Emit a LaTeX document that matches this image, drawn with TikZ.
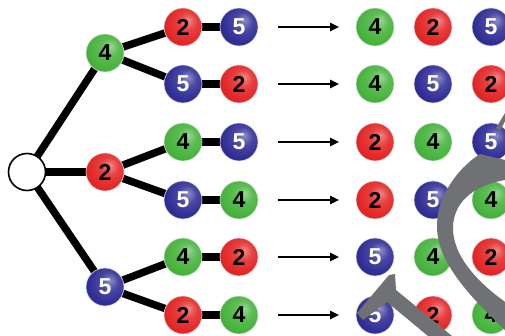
\documentclass[tikz,border=0pt]{standalone}
\usepackage{fontspec}
\setmainfont{Liberation Sans}
\usetikzlibrary{arrows.meta}

\definecolor{ballgreen}{RGB}{70,180,60}
\definecolor{ballred}{RGB}{228,38,38}
\definecolor{ballblue}{RGB}{48,46,150}
\definecolor{markgray}{RGB}{112,113,117}

% sphere shadings with a highlight towards the upper right
\newcommand\declaresphere[2]{%
  \pgfdeclareradialshading{#1}{\pgfpoint{7bp}{9bp}}{%
    color(0bp)=(#2!55!white);
    color(12bp)=(#2!88!white);
    color(26bp)=(#2);
    color(44bp)=(#2!82!black);
    color(56bp)=(#2!75!black);
    color(60bp)=(#2!60!white)}}
\declaresphere{spheregreen}{ballgreen}
\declaresphere{spherered}{ballred}
\declaresphere{sphereblue}{ballblue}

\pgfdeclarelayer{back}
\pgfsetlayers{back,main}

\begin{document}
\begin{tikzpicture}[x=1pt,y=-1pt,
  ball/.style={circle, minimum size=38pt, inner sep=0pt,
    draw=black!12, line width=0.6pt,
    font=\fontsize{23}{23}\selectfont\bfseries},
  g/.style={ball, shading=spheregreen, text=black},
  r/.style={ball, shading=spherered, text=black},
  b/.style={ball, shading=sphereblue, text=white},
  rootnode/.style={circle, minimum size=37pt, inner sep=0pt, draw=black,
    line width=1.6pt, fill=white},
  link/.style={line width=7.5pt},
  arr/.style={line width=1.6pt, -{Triangle[length=9pt,width=8.5pt]}}
]
\useasboundingbox (0,0) rectangle (505,336);

% tree nodes
\node[rootnode] (root) at (27,172) {};
\node[g] (a) at (105,53) {4};
\node[r] (b) at (105,172) {2};
\node[b] (c) at (105,287) {5};

\node[r] (a1) at (183,27) {2};   \node[b] (a1x) at (239,27) {5};
\node[b] (a2) at (183,84) {5};   \node[r] (a2x) at (239,84) {2};
\node[g] (b1) at (183,142) {4};  \node[b] (b1x) at (239,142) {5};
\node[b] (b2) at (183,200) {5};  \node[g] (b2x) at (239,200) {4};
\node[g] (c1) at (183,257) {4};  \node[r] (c1x) at (239,257) {2};
\node[r] (c2) at (183,315) {2};  \node[g] (c2x) at (239,315) {4};

% branches, behind the balls
\begin{pgfonlayer}{back}
  \foreach \u/\v in {root/a,root/b,root/c,a/a1,a/a2,b/b1,b/b2,c/c1,c/c2,
                     a1/a1x,a2/a2x,b1/b1x,b2/b2x,c1/c1x,c2/c2x}
    \draw[link] (\u.center) -- (\v.center);
\end{pgfonlayer}

% results
\node[g] (p1) at (375,27) {4};  \node[r] (q1) at (433,27) {2};  \node[b] (s1) at (491,27) {5};
\node[g] (p2) at (375,84) {4};  \node[b] (q2) at (433,84) {5};  \node[r] (s2) at (491,84) {2};
\node[r] (p3) at (375,142) {2}; \node[g] (q3) at (433,142) {4}; \node[b] (s3) at (491,142) {5};
\node[r] (p4) at (375,200) {2}; \node[b] (q4) at (433,200) {5}; \node[g] (s4) at (491,200) {4};
\node[b] (p5) at (375,257) {5}; \node[g] (q5) at (433,257) {4}; \node[r] (s5) at (491,257) {2};
\node[b] (p6) at (375,315) {5}; \node[r] (q6) at (433,315) {2}; \node[g] (s6) at (491,315) {4};

% arrows
\foreach \i/\y in {1/27,2/84,3/142,4/200,5/257,6/315}{
  \coordinate (t\i) at (278,\y);
  \coordinate (h\i) at (339,\y);
  \draw[arr] (t\i) -- (h\i);
}

% gray overprint strokes
\fill[markgray]
  (480,154) .. controls (455,170) and (436,200) .. (437,228)
  .. controls (438,262) and (468,295) .. (505,330)
  -- (505,302)
  .. controls (475,280) and (453,255) .. (453,228)
  .. controls (453,205) and (470,186) .. (505,180)
  -- (505,160) .. controls (497,158) and (488,156) .. (480,154) -- cycle;
\fill[markgray] (500,131) -- (505,121) -- (505,113) -- (496,128) -- cycle;
\fill[markgray]
  (357,313) -- (389,275) -- (395,274) -- (396,290)
  -- (452,336) -- (428,336) -- (387,302) -- (363,320) -- cycle;
\end{tikzpicture}
\end{document}
